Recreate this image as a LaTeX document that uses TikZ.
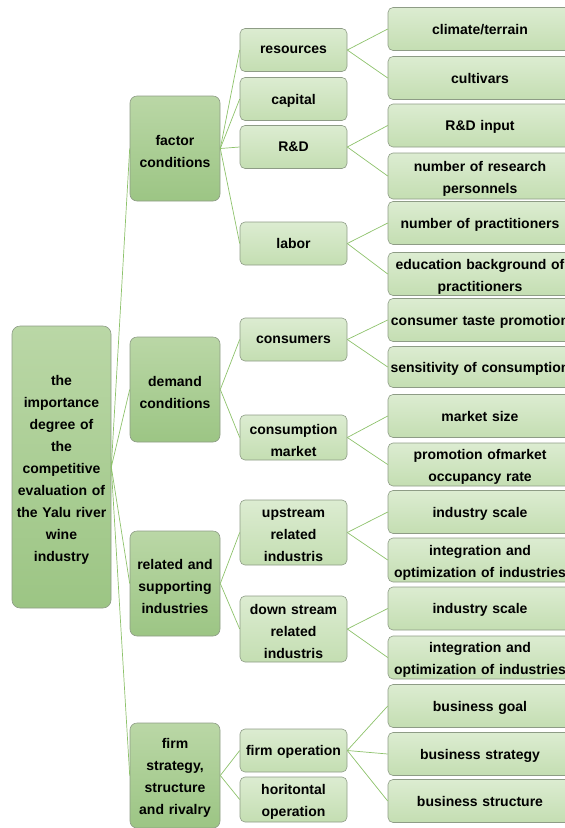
\documentclass[tikz,border=0pt]{standalone}
\usepackage{fontspec}
\setmainfont{Liberation Sans}
\usetikzlibrary{positioning}
\definecolor{darktop}{HTML}{BAD7A6}
\definecolor{darkbot}{HTML}{9CC584}
\definecolor{lighttop}{HTML}{DCECD1}
\definecolor{lightbot}{HTML}{C4DEB2}
\definecolor{boxline}{HTML}{8E9C86}
\definecolor{linkgreen}{HTML}{8DC26B}

\begin{document}
\begin{tikzpicture}[x=1pt, y=-1pt,
    box/.style={draw=boxline, line width=0.6pt, align=center, inner sep=0pt,
      font=\bfseries\fontsize{14}{22}\selectfont,
      execute at end node={\vspace*{-5pt}}},
    rootbox/.style={box, rounded corners=8pt, top color=darktop, bottom color=darkbot,
      minimum width=99pt, text width=97pt},
    factorbox/.style={box, rounded corners=7pt, top color=darktop, bottom color=darkbot,
      minimum width=90pt, text width=88pt, minimum height=105pt},
    subbox/.style={box, rounded corners=5pt, top color=lighttop, bottom color=lightbot,
      minimum width=107pt, text width=105pt, minimum height=43pt},
    leafbox/.style={box, rounded corners=5pt, top color=lighttop, bottom color=lightbot,
      minimum width=184pt, text width=182pt, minimum height=43pt},
    link/.style={draw=linkgreen, line width=0.7pt}]
  \useasboundingbox (0,0) rectangle (565,828);
  \clip (0,0) rectangle (565,828);

  % root
  \node[rootbox, minimum height=282pt] (root) at (61.5,467)
    {the\\importance\\degree of\\the\\competitive\\evaluation of\\the Yalu river\\wine\\industry};

  % the four conditions
  \node[factorbox] (fac) at (175,148.5) {factor\\conditions};
  \node[factorbox] (dem) at (175,389.5) {demand\\conditions};
  \node[factorbox] (rel) at (175,583.5) {related and\\supporting\\industries};
  \node[factorbox] (firm) at (175,775.5) {firm\\strategy,\\structure\\and rivalry};

  % second level
  \node[subbox] (res) at (293.5,50) {resources};
  \node[subbox] (cap) at (293.5,99) {capital};
  \node[subbox] (rd) at (293.5,147) {R\&D};
  \node[subbox] (lab) at (293.5,243.5) {labor};
  \node[subbox] (con) at (293.5,339.5) {consumers};
  \node[subbox, minimum height=45pt] (mkt) at (293.5,437.5) {consumption\\market};
  \node[subbox, minimum height=65pt] (up) at (293.5,532.5) {upstream\\related\\industris};
  \node[subbox, minimum height=66pt] (down) at (293.5,629) {down stream\\related\\industris};
  \node[subbox] (fop) at (293.5,750.5) {firm operation};
  \node[subbox, minimum height=45pt] (hop) at (293.5,799.5) {horitontal\\operation};

  % third level
  \node[leafbox] (clim) at (480,29) {climate/terrain};
  \node[leafbox] (cult) at (480,78) {cultivars};
  \node[leafbox] (rdin) at (480,125.5) {R\&D input};
  \node[leafbox, minimum height=46pt] (pers) at (480,176) {number of research\\personnels};
  \node[leafbox] (prac) at (480,223) {number of practitioners};
  \node[leafbox] (edu) at (480,274) {education background of\\practitioners};
  \node[leafbox] (taste) at (480,320) {consumer taste promotion};
  \node[leafbox, minimum height=41pt] (sens) at (480,367) {sensitivity of consumption};
  \node[leafbox] (size) at (480,416) {market size};
  \node[leafbox] (occ) at (480,464.5) {promotion ofmarket\\occupancy rate};
  \node[leafbox] (scaleA) at (480,512) {industry scale};
  \node[leafbox, minimum height=44pt] (integA) at (480,560) {integration and\\optimization of industries};
  \node[leafbox] (scaleB) at (480,608.5) {industry scale};
  \node[leafbox] (integB) at (480,657.5) {integration and\\optimization of industries};
  \node[leafbox] (goal) at (480,706) {business goal};
  \node[leafbox] (strat) at (480,754) {business strategy};
  \node[leafbox] (struc) at (480,801) {business structure};

  % connectors
  \foreach \p/\c in {root/fac, root/dem, root/rel, root/firm,
      fac/res, fac/cap, fac/rd, fac/lab, dem/con, dem/mkt,
      rel/up, rel/down, firm/fop, firm/hop,
      res/clim, res/cult, rd/rdin, rd/pers, lab/prac, lab/edu,
      con/taste, con/sens, mkt/size, mkt/occ, up/scaleA, up/integA,
      down/scaleB, down/integB, fop/goal, fop/strat, fop/struc} {
    \draw[link] (\p.east) -- (\c.west);
  };
\end{tikzpicture}
\end{document}
